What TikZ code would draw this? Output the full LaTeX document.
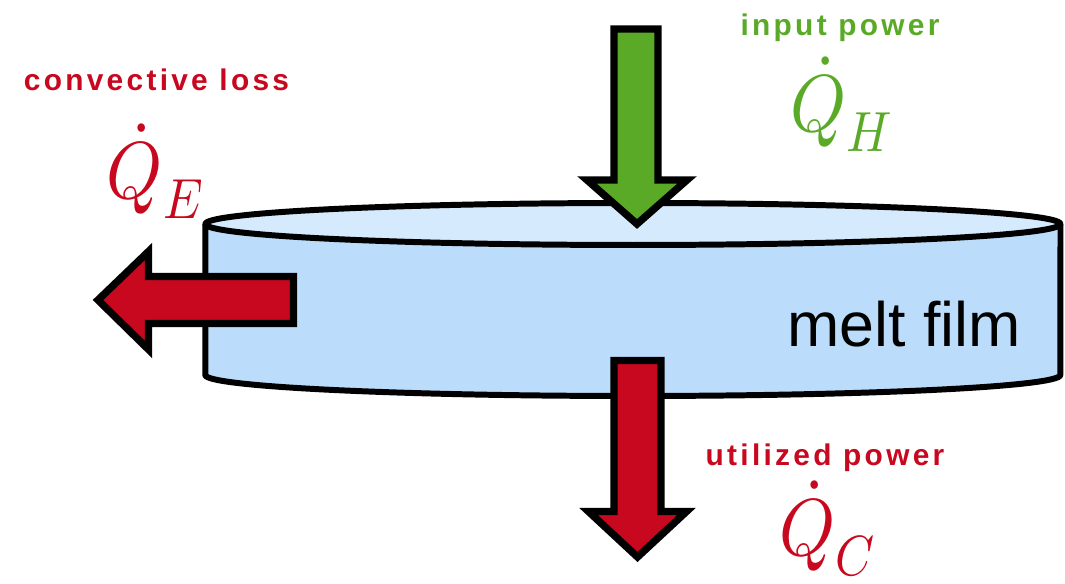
\documentclass[tikz,border=0pt]{standalone}
\usepackage{fontspec}
\usepackage{unicode-math}
\setmathfont{Latin Modern Math}
\newfontfamily\labelfont[LetterSpace=11]{Liberation Sans}
\newfontfamily\bodyfont{Liberation Sans}

\definecolor{heatred}{RGB}{200,8,30}
\definecolor{heatgreen}{RGB}{90,170,40}
\definecolor{filmside}{RGB}{187,221,251}
\definecolor{filmtop}{RGB}{214,234,253}

\tikzset{
  cylline/.style={draw=black, line width=3.4pt, line join=round},
  flowarrow/.style={draw=black, line width=4.2pt, line join=miter, miter limit=10},
  flowlabel/.style={inner sep=0pt, anchor=base, font=\labelfont\bfseries\fontsize{17}{20}\selectfont},
  flowsym/.style={inner sep=0pt, anchor=base, xscale=0.88, transform shape,
    font=\fontsize{46}{50}\selectfont},
}

\begin{document}
\begin{tikzpicture}[x=0.02cm, y=0.02cm]
  \useasboundingbox (0,0) rectangle (1065,584);

  % melt film cylinder: side wall
  \fill[filmside] (205.3,360) -- (205.3,209)
    arc[start angle=180, end angle=360, x radius=8.552cm, y radius=0.42cm]
    -- (1060.5,360) -- cycle;
  \draw[cylline] (205.3,360) -- (205.3,209)
    arc[start angle=180, end angle=360, x radius=8.552cm, y radius=0.42cm]
    -- (1060.5,360);
  % top face
  \draw[cylline, fill=filmtop] (632.9,360) ellipse [x radius=8.552cm, y radius=0.42cm];

  \node[inner sep=0pt, anchor=base west, font=\bodyfont\fontsize{35.7}{40}\selectfont]
    (film) at (787,237) {melt film};

  % input power, entering from above
  \draw[flowarrow, fill=heatgreen]
    (614,555) -- (658,555) -- (658,404) -- (687,404) -- (637,360)
    -- (587,404) -- (614,404) -- cycle;

  % utilized power, leaving through the bottom
  \draw[flowarrow, fill=heatred]
    (614,223.5) -- (661,223.5) -- (661,72.5) -- (686.5,72.5) -- (637.5,27)
    -- (588.5,72.5) -- (614,72.5) -- cycle;

  % convective loss, leaving through the side
  \draw[flowarrow, fill=heatred]
    (293.5,307.5) -- (148.5,307.5) -- (148.5,332.5) -- (98,284)
    -- (148.5,234.5) -- (148.5,260.5) -- (293.5,260.5) -- cycle;

  % labels
  \node[flowlabel, text=heatred]   (lossT) at (156.5,493) {convective loss};
  \node[flowsym,   text=heatred]   (lossS) at (155,385) {$\dot{Q}_E$};
  \node[flowlabel, text=heatgreen] (inT)   at (840,548) {input power};
  \node[flowsym,   text=heatgreen] (inS)   at (841.5,452) {$\dot{Q}_H$};
  \node[flowlabel, text=heatred]   (useT)  at (825,118) {utilized power};
  \node[flowsym,   text=heatred]   (useS)  at (827.5,28) {$\dot{Q}_C$};
\end{tikzpicture}
\end{document}
